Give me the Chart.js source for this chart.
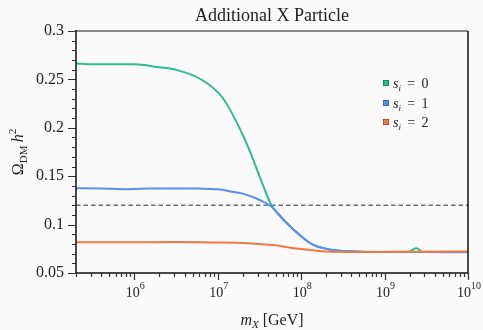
<!DOCTYPE html>
<html>
<head>
<meta charset="utf-8">
<script src="https://cdn.jsdelivr.net/npm/chart.js@4.4.1/dist/chart.umd.min.js"></script>
<style>
  html, body { margin: 0; padding: 0; background: #fafafa; }
  #wrap { width: 483px; height: 330px; }
</style>
</head>
<body>
<div id="wrap"><canvas id="relicChart" width="483" height="330"></canvas></div>
<script>
// Relic abundance vs. mass of the extra particle, one curve per s_i
var massS0 = [2e5, 3.2e5, 1e6, 2e6, 3e6, 6.5e6, 1.15e7, 1.8e7, 2.4e7, 3.2e7, 4.4e7, 5.2e7, 6.3e7, 1e8, 1.4e8, 2.4e8, 5e8, 1e9, 1.9e9, 2.4e9, 2.9e9, 5e9, 1e10];
var omegaS0 = [0.2665, 0.2656, 0.2656, 0.2625, 0.2604, 0.2494, 0.2308, 0.2008, 0.177, 0.149, 0.120, 0.112, 0.104, 0.088, 0.079, 0.0738, 0.0722, 0.0718, 0.0718, 0.0755, 0.0716, 0.0717, 0.0717];

var massS1 = [2e5, 4e5, 8e5, 1.5e6, 3e6, 6e6, 1e7, 1.5e7, 2e7, 3.2e7, 4.4e7, 6.3e7, 1e8, 1.4e8, 2.4e8, 5e8, 1e9, 3e9, 1e10];
var omegaS1 = [0.1375, 0.1374, 0.1366, 0.1372, 0.1374, 0.1372, 0.1365, 0.134, 0.132, 0.1254, 0.1185, 0.104, 0.088, 0.079, 0.0738, 0.072, 0.0717, 0.0716, 0.0715];

var massS2 = [2e5, 1e6, 3e6, 1e7, 2e7, 4.5e7, 1e8, 2e8, 5e8, 1e9, 3e9, 1e10];
var omegaS2 = [0.0817, 0.0818, 0.0820, 0.0815, 0.0810, 0.0789, 0.0747, 0.0722, 0.0717, 0.0718, 0.0720, 0.0723];

// Observed relic density (dashed reference line)
var relicMass = [2e5, 1e10];
var relicOmega = [0.12, 0.12];

var seriesLabels = ['0', '1', '2'];
var seriesColors = ['#2bbd92', '#5b8ef4', '#f4773f'];

var xMin = 2e5, xMax = 1e10;
var yMin = 0.05, yMax = 0.3;
var xTickExps = [6, 7, 8, 9, 10];

var serif = '"Liberation Serif", "DejaVu Serif", serif';

function toPoints(xs, ys) {
    return xs.map(function(x, i) { return { x: x, y: ys[i] }; });
}

// Draw a run of text pieces (normal / sub / sup) left to right
function drawPieces(ctx, pieces, x, y) {
    pieces.forEach(function(p) {
        ctx.font = p.font;
        ctx.fillText(p.text, x, y + (p.dy || 0));
        x += ctx.measureText(p.text).width;
    });
    return x;
}

function piecesWidth(ctx, pieces) {
    var w = 0;
    pieces.forEach(function(p) {
        ctx.font = p.font;
        w += ctx.measureText(p.text).width;
    });
    return w;
}

var decorPlugin = {
    id: 'decor',
    beforeDraw: function(chart) {
        var ctx = chart.ctx;
        ctx.save();
        ctx.fillStyle = '#fafafa';
        ctx.fillRect(0, 0, chart.width, chart.height);
        ctx.restore();
    },
    afterDraw: function(chart) {
        var ctx = chart.ctx;
        var area = chart.chartArea;
        var xs = chart.scales.x;
        var ys = chart.scales.y;
        ctx.save();

        // Frame: gray top, black on the other sides
        ctx.lineWidth = 2;
        ctx.strokeStyle = '#888';
        ctx.beginPath();
        ctx.moveTo(area.left, area.top);
        ctx.lineTo(area.right, area.top);
        ctx.stroke();
        ctx.lineWidth = 1.5;
        ctx.strokeStyle = '#111';
        ctx.beginPath();
        ctx.moveTo(area.right, area.top);
        ctx.lineTo(area.right, area.bottom);
        ctx.lineTo(area.left, area.bottom);
        ctx.lineTo(area.left, area.top - 1);
        ctx.stroke();

        // Tick marks (outward), major and minor
        ctx.lineWidth = 1.2;
        ctx.strokeStyle = '#333';
        ctx.beginPath();
        for (var i = 5; i <= 30; i++) {
            var py = Math.round(ys.getPixelForValue(i / 100)) + 0.5;
            var len = (i % 5 === 0) ? 8 : 4;
            ctx.moveTo(area.left, py);
            ctx.lineTo(area.left - len, py);
        }
        for (var e = 5; e <= 10; e++) {
            for (var k = 1; k <= 9; k++) {
                var v = k * Math.pow(10, e);
                if (v < xMin || v > xMax) continue;
                var px = Math.round(xs.getPixelForValue(v)) + 0.5;
                var tl = (k === 1) ? 7 : 4;
                ctx.moveTo(px, area.bottom);
                ctx.lineTo(px, area.bottom + tl);
            }
        }
        ctx.stroke();

        // x tick labels 10^n
        ctx.fillStyle = '#222';
        ctx.textBaseline = 'alphabetic';
        ctx.textAlign = 'left';
        xTickExps.forEach(function(n) {
            var pieces = [
                { text: '10', font: '14px ' + serif },
                { text: String(n), font: '10px ' + serif, dy: -8 }
            ];
            var w = piecesWidth(ctx, pieces);
            var cx = xs.getPixelForValue(Math.pow(10, n));
            drawPieces(ctx, pieces, cx - w / 2 + 1, 297);
        });

        // Title
        ctx.font = '18px ' + serif;
        ctx.textAlign = 'center';
        ctx.fillText('Additional X Particle', (area.left + area.right) / 2, 21);
        ctx.textAlign = 'left';

        // x axis title
        var xTitle = [
            { text: 'm', font: 'italic 16px ' + serif },
            { text: 'X', font: 'italic 11px ' + serif, dy: 3 },
            { text: ' [GeV]', font: '16px ' + serif }
        ];
        var xw = piecesWidth(ctx, xTitle);
        drawPieces(ctx, xTitle, (area.left + area.right) / 2 - xw / 2, 325);

        // y axis title, rotated
        var yTitle = [
            { text: '\u03A9', font: '16px ' + serif },
            { text: 'DM', font: '11px ' + serif, dy: 4 },
            { text: '\u2009', font: '16px ' + serif },
            { text: 'h', font: 'italic 16px ' + serif },
            { text: '2', font: '11px ' + serif, dy: -7 }
        ];
        var yw = piecesWidth(ctx, yTitle);
        ctx.save();
        ctx.translate(23, (area.top + area.bottom) / 2);
        ctx.rotate(-Math.PI / 2);
        drawPieces(ctx, yTitle, -yw / 2, 0);
        ctx.restore();

        // Legend inside the plot
        var legX = 383, legY = [83, 103, 122];
        seriesLabels.forEach(function(lab, j) {
            ctx.fillStyle = seriesColors[j];
            ctx.fillRect(legX, legY[j] - 3, 6, 6);
            ctx.strokeStyle = 'rgba(0,0,0,0.35)';
            ctx.lineWidth = 0.8;
            ctx.strokeRect(legX + 0.4, legY[j] - 2.6, 5.2, 5.2);
            ctx.fillStyle = '#222';
            drawPieces(ctx, [
                { text: 's', font: 'italic 14px ' + serif },
                { text: 'i', font: 'italic 9px ' + serif, dy: 3 },
                { text: ' \u2009=\u2009 ' + lab, font: '14px ' + serif }
            ], legX + 10, legY[j] + 5);
        });

        ctx.restore();
    }
};

function lineDataset(label, xs, ys, color, order) {
    return {
        label: label,
        data: toPoints(xs, ys),
        borderColor: color,
        backgroundColor: color,
        borderWidth: 2,
        pointRadius: 0,
        cubicInterpolationMode: 'monotone',
        fill: false,
        order: order
    };
}

var datasets = [
    lineDataset('s_i = 0', massS0, omegaS0, seriesColors[0], 3),
    lineDataset('s_i = 1', massS1, omegaS1, seriesColors[1], 2),
    lineDataset('s_i = 2', massS2, omegaS2, seriesColors[2], 1),
    {
        label: 'relic',
        data: toPoints(relicMass, relicOmega),
        borderColor: '#707070',
        borderWidth: 1.6,
        borderDash: [4.5, 3],
        pointRadius: 0,
        fill: false,
        order: 4
    }
];

var chart = new Chart(document.getElementById('relicChart'), {
    type: 'line',
    data: { datasets: datasets },
    options: {
        responsive: false,
        animation: false,
        devicePixelRatio: 1,
        layout: { padding: { top: 31, right: 15, bottom: 0, left: 0 } },
        plugins: {
            legend: { display: false },
            title: { display: false },
            tooltip: { enabled: false }
        },
        scales: {
            x: {
                type: 'logarithmic',
                min: xMin,
                max: xMax,
                grid: { display: false, drawTicks: false },
                border: { display: false },
                ticks: { display: false },
                afterFit: function(scale) { scale.height = 57; }
            },
            y: {
                type: 'linear',
                min: yMin,
                max: yMax,
                grid: { display: false, drawTicks: false },
                border: { display: false },
                ticks: {
                    stepSize: 0.05,
                    padding: 12,
                    color: '#222',
                    font: { family: serif, size: 16 },
                    callback: function(value) {
                        return String(Number(value.toFixed(2)));
                    }
                },
                afterFit: function(scale) { scale.width = 76; }
            }
        }
    },
    plugins: [decorPlugin]
});
</script>
</body>
</html>
